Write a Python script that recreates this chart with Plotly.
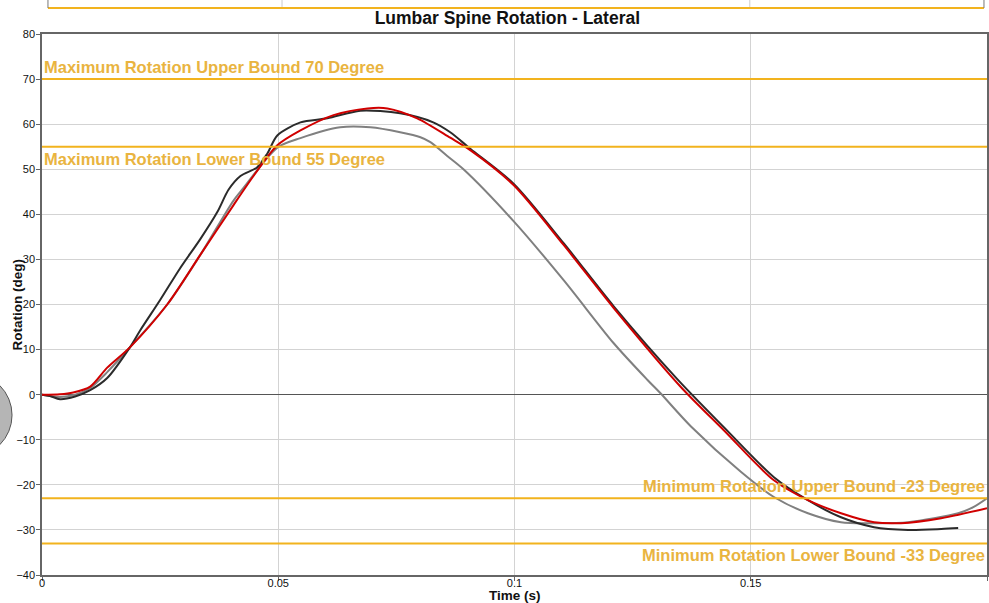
import plotly.graph_objects as go

# ---- data ----
black_t = [0, 0.0017, 0.0038, 0.0070, 0.0102, 0.0138, 0.0186, 0.0208, 0.0250, 0.0292,
           0.0335, 0.0371, 0.0395, 0.0420, 0.0455, 0.0477, 0.0498, 0.0547, 0.0604, 0.0674, 0.0758,
           0.0828, 0.0864, 0.0907, 0.0998, 0.1104, 0.1210, 0.1345, 0.1443, 0.1549, 0.1621,
           0.1691, 0.1761, 0.1833, 0.1903, 0.1939]
black_v = [0, -0.3, -1.0, -0.4, 1.0, 3.7, 10.5, 14.3, 21, 28,
           34.5, 40.5, 45.5, 48.5, 50.4, 53.5, 57.5, 60.4, 61.3, 63, 62.4,
           60.4, 58.2, 54.5, 46.8, 33.6, 19.6, 3.4, -7.2, -18.3, -23.4,
           -27.2, -29.4, -30, -29.8, -29.6]

red_t = [0, 0.0038, 0.0066, 0.0102, 0.0138, 0.0186, 0.0265, 0.0335, 0.0405, 0.0451,
         0.0498, 0.0547, 0.0617, 0.0689, 0.0731, 0.0794, 0.0864, 0.0907, 0.0998, 0.1104,
         0.1210, 0.1352, 0.1443, 0.1549, 0.1621, 0.1691, 0.1761, 0.1818, 0.1903, 0.2]
red_v = [0, 0.1, 0.5, 1.8, 6, 10.5, 20, 31, 42, 49,
         55.3, 58.6, 62, 63.5, 63.5, 61.3, 57, 54.2, 46.5, 33.2,
         19.2, 1.7, -7.9, -19, -23.4, -26.3, -28.3, -28.5, -27.4, -25.2]

gray_t = [0, 0.0038, 0.0070, 0.0102, 0.0138, 0.0186, 0.0265, 0.0335, 0.0405, 0.0426,
          0.0498, 0.0547, 0.0631, 0.0695, 0.0758, 0.0801, 0.0822, 0.0857, 0.0892, 0.0998,
          0.1104, 0.1210, 0.1282, 0.1309, 0.1373, 0.1479, 0.1549, 0.1621, 0.1691, 0.1761,
          0.1833, 0.1939, 0.1972, 0.2]
gray_v = [0, -0.5, 0, 1.5, 5, 10.5, 20, 31, 43, 45.8,
          54.8, 56.9, 59.3, 59.3, 58.2, 57.1, 56, 53, 50, 38.5,
          25.4, 11.4, 3.2, 0.3, -7.0, -17.1, -22.7, -26.3, -28.3, -28.5,
          -28.3, -26.3, -24.9, -23]

bounds = [70, 55, -23, -33]
bound_labels = ["Maximum Rotation Upper Bound 70 Degree",
                "Maximum Rotation Lower Bound 55 Degree",
                "Minimum Rotation Upper Bound -23 Degree",
                "Minimum Rotation Lower Bound -33 Degree"]

x_ticks = [0, 0.05, 0.1, 0.15, 0.2]
x_tick_text = ["0", "0.05", "0.1", "0.15", "0.2"]
y_ticks = list(range(-40, 81, 10))

FONT = "Liberation Sans, Arial, sans-serif"
ORANGE = "#f2b31e"
TEXT_OR = "#e9b440"

fig = go.Figure()
fig.add_trace(go.Scatter(x=gray_t, y=gray_v, mode="lines", line=dict(color="#808080", width=2, shape="spline", smoothing=0.8), showlegend=False))
fig.add_trace(go.Scatter(x=black_t, y=black_v, mode="lines", line=dict(color="#2b2b2b", width=2, shape="spline", smoothing=0.8), showlegend=False))
fig.add_trace(go.Scatter(x=red_t, y=red_v, mode="lines", line=dict(color="#d00000", width=2, shape="spline", smoothing=0.8), showlegend=False))

for b in bounds:
    fig.add_hline(y=b, line=dict(color=ORANGE, width=2), layer="above")

ann_font = dict(family=FONT, size=16.5, color=TEXT_OR)
fig.add_annotation(x=0, y=bounds[0], xref="x", yref="y", text="<b>" + bound_labels[0] + "</b>",
                   showarrow=False, xanchor="left", yanchor="bottom", xshift=0, yshift=1, font=ann_font)
fig.add_annotation(x=0, y=bounds[1], xref="x", yref="y", text="<b>" + bound_labels[1] + "</b>",
                   showarrow=False, xanchor="left", yanchor="top", xshift=0, yshift=-1, font=ann_font)
fig.add_annotation(x=0.2, y=bounds[2], xref="x", yref="y", text="<b>" + bound_labels[2] + "</b>",
                   showarrow=False, xanchor="right", yanchor="bottom", xshift=0, yshift=1, font=ann_font)
fig.add_annotation(x=0.2, y=bounds[3], xref="x", yref="y", text="<b>" + bound_labels[3] + "</b>",
                   showarrow=False, xanchor="right", yanchor="top", xshift=0, yshift=-1, font=ann_font)

# axis titles
fig.add_annotation(x=0.5, y=-0.038, xref="paper", yref="paper", text="<b>Time (s)</b>", showarrow=False,
                   xanchor="center", yanchor="middle", font=dict(family=FONT, size=13.5, color="#111111"))
fig.add_annotation(x=-0.0254, y=0.5, xref="paper", yref="paper", text="<b>Rotation (deg)</b>", showarrow=False,
                   textangle=-90, xanchor="center", yanchor="middle", font=dict(family=FONT, size=13.5, color="#111111"))

# artifacts from the surrounding page (partial box above, disc on the left)
fig.add_shape(type="line", xref="paper", yref="paper", x0=0.0063, x1=0.9968, y0=1.048, y1=1.048,
              line=dict(color=ORANGE, width=2))
fig.add_shape(type="line", xref="paper", yref="paper", x0=0.0063, x1=0.0063, y0=1.048, y1=1.07,
              line=dict(color="#777777", width=1))
fig.add_shape(type="line", xref="paper", yref="paper", x0=0.9968, x1=0.9968, y0=1.048, y1=1.07,
              line=dict(color="#777777", width=1))
fig.add_shape(type="line", xref="paper", yref="paper", x0=0.254, x1=0.254, y0=1.05, y1=1.07,
              line=dict(color="#cccccc", width=1))
fig.add_shape(type="line", xref="paper", yref="paper", x0=0.749, x1=0.749, y0=1.05, y1=1.07,
              line=dict(color="#cccccc", width=1))
fig.add_shape(type="circle", xref="paper", yref="paper", x0=-0.1206, x1=-0.0317, y0=0.218, y1=0.373,
              line=dict(color="#555555", width=1), fillcolor="#b5b5b5")

axis_font = dict(family=FONT, size=11, color="#111111")
fig.update_layout(
    width=989, height=603,
    margin=dict(l=42, r=2, t=34, b=28, autoexpand=False),
    paper_bgcolor="white", plot_bgcolor="white",
    title=dict(text="<b>Lumbar Spine Rotation - Lateral</b>", x=0.513, xanchor="center",
               y=0.97, yanchor="middle", yref="container",
               font=dict(family=FONT, size=17.5, color="#111111")),
    font=axis_font,
)
fig.update_xaxes(range=[0, 0.2], tickvals=x_ticks, ticktext=x_tick_text, showgrid=True, gridcolor="#d3d3d3",
                 gridwidth=1, zeroline=False, showline=True, linecolor="#666666", linewidth=1.5, mirror=True,
                 ticks="outside", ticklen=4, tickcolor="#666666", tickfont=axis_font, automargin=False,
                 ticklabelstandoff=-7)
fig.update_yaxes(range=[-40, 80], tickvals=y_ticks, showgrid=True, gridcolor="#d3d3d3", gridwidth=1,
                 zeroline=True, zerolinecolor="#555555", zerolinewidth=1,
                 showline=True, linecolor="#666666", linewidth=1.5, mirror=True,
                 ticks="outside", ticklen=4, tickcolor="#666666", tickfont=axis_font, automargin=False,
                 ticklabelstandoff=-1)

fig.write_html("out.html", config={"displayModeBar": False},
               post_script="document.body.style.margin='0';document.body.style.overflow='hidden';")
